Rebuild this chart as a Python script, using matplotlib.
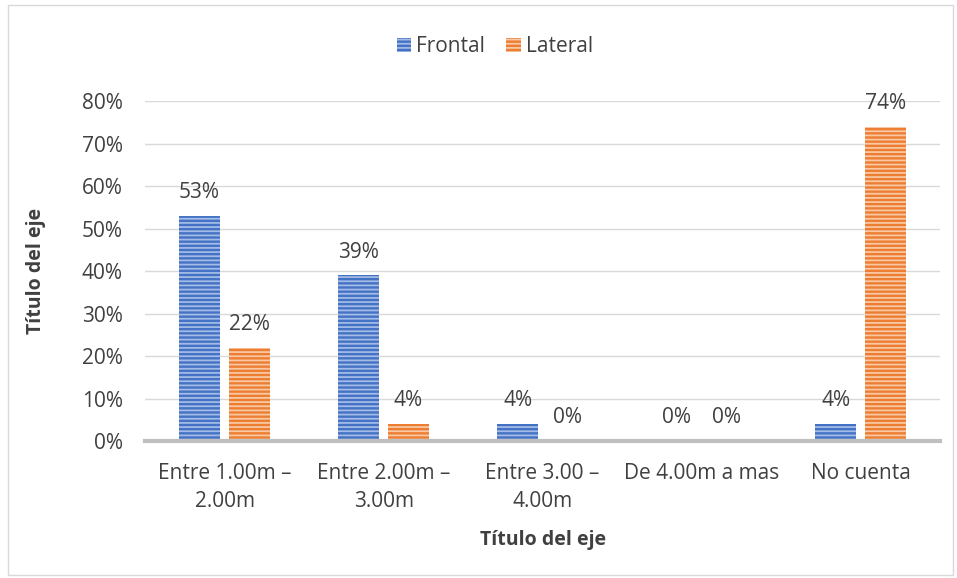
import matplotlib.pyplot as plt
import matplotlib.patches as mpatches
import numpy as np

plt.rcParams['font.family'] = ['Open Sans', 'DejaVu Sans']
plt.rcParams['hatch.linewidth'] = 1.3

categories = ["Entre 1.00m –\n2.00m", "Entre 2.00m –\n3.00m", "Entre 3.00 –\n4.00m",
              "De 4.00m a mas", "No cuenta"]
frontal = [53, 39, 4, 0, 4]
lateral = [22, 4, 0, 0, 74]

blue = "#4472C4"
orange = "#ED7D31"
txt = "#404040"

fig = plt.figure(figsize=(9.57, 5.78), dpi=100)
ax = fig.add_axes([0.1515, 0.237, 0.831, 0.588])

# outer chart border
fig.patches.append(mpatches.Rectangle((0.008, 0.006), 0.988, 0.985, transform=fig.transFigure,
                                      fill=False, edgecolor="#D9D9D9", linewidth=1))

x = np.arange(len(categories))
w = 0.26
off = 0.157
b1 = ax.bar(x - off, frontal, w, color=blue, edgecolor="#a3bbe6", linewidth=0, hatch="----",
            label="Frontal", zorder=3)
b2 = ax.bar(x + off, lateral, w, color=orange, edgecolor="#f9c8a4", linewidth=0, hatch="----",
            label="Lateral", zorder=3)

for bars, vals in ((b1, frontal), (b2, lateral)):
    for r, v in zip(bars, vals):
        ax.text(r.get_x() + r.get_width() / 2, v + 3, f"{v}%", ha="center", va="bottom",
                fontsize=15, color=txt)

ax.set_xlim(-0.5, 4.5)
ax.set_ylim(0, 80)
ax.set_yticks(range(0, 81, 10))
ax.set_yticklabels([f"{t}%" for t in range(0, 81, 10)])
ax.set_xticks(x)
ax.set_xticklabels(categories, linespacing=1.45)
ax.tick_params(length=0, labelsize=15, labelcolor=txt)
ax.tick_params(axis="x", pad=16)
ax.tick_params(axis="y", pad=16)
ax.grid(axis="y", color="#D9D9D9", linewidth=1, zorder=0)
for s in ["top", "right", "left"]:
    ax.spines[s].set_visible(False)
ax.spines["bottom"].set_color("#BFBFBF")
ax.spines["bottom"].set_linewidth(3)
ax.spines["bottom"].set_zorder(4)

ax.set_ylabel("Título del eje", fontsize=14, fontweight="bold", color=txt, labelpad=26)
ax.set_xlabel("Título del eje", fontsize=14, fontweight="bold", color=txt, labelpad=13)

fig.legend(handles=[b1, b2], loc="center", bbox_to_anchor=(0.517, 0.919), ncol=2,
           frameon=False, fontsize=15, handlelength=0.7, handleheight=0.7,
           columnspacing=1.0, handletextpad=0.25, labelcolor=txt)

fig.savefig("out.png", dpi=100)
